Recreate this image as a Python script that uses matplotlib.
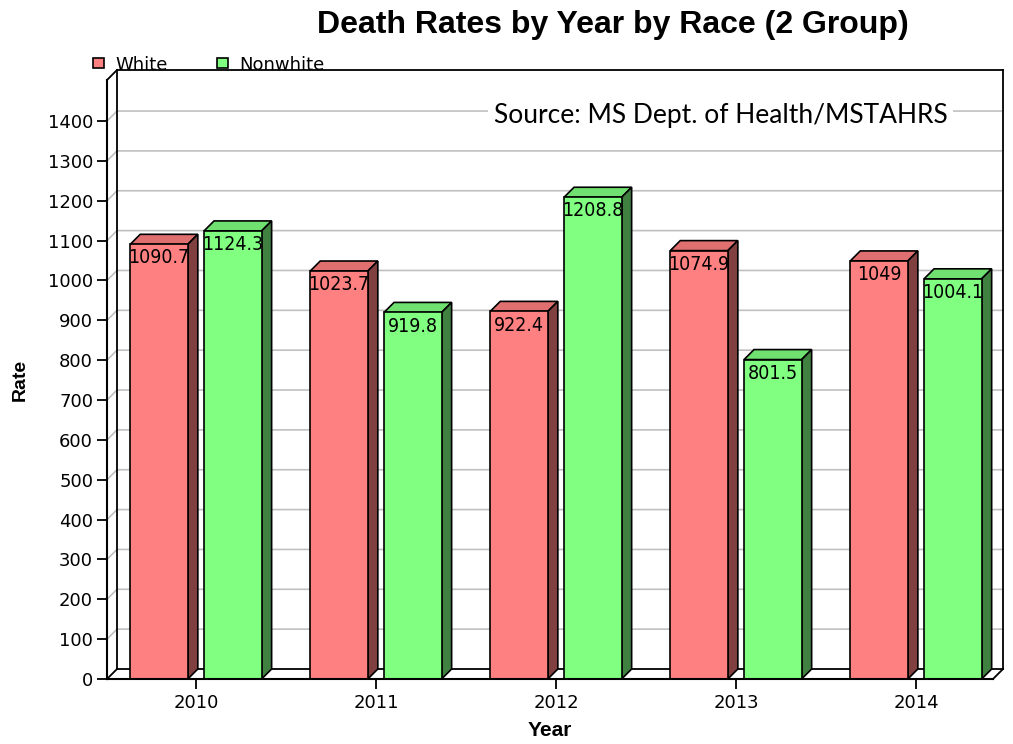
import matplotlib
matplotlib.use("Agg")
import matplotlib.pyplot as plt
from matplotlib.patches import Polygon
from matplotlib.lines import Line2D

years = ["2010", "2011", "2012", "2013", "2014"]
white = [1090.7, 1023.7, 922.4, 1074.9, 1049.0]
nonwhite = [1124.3, 919.8, 1208.8, 801.5, 1004.1]
white_labels = ["1090.7", "1023.7", "922.4", "1074.9", "1049"]
nonwhite_labels = ["1124.3", "919.8", "1208.8", "801.5", "1004.1"]
yticks = list(range(0, 1401, 100))

W, H = 1013, 744
fig = plt.figure(figsize=(W / 100, H / 100), dpi=100)

# front axes area in pixels
L, R, B, T = 107, 993, 679, 80
ax = fig.add_axes([L / W, 1 - B / H, (R - L) / W, (B - T) / H])
xmin, xmax = -0.494, 4.428
ymax = 1503
ax.set_xlim(xmin, xmax)
ax.set_ylim(0, ymax)
for s in ax.spines.values():
    s.set_visible(False)

pxx = (R - L) / (xmax - xmin)
pxy = (B - T) / ymax
dx = 10 / pxx
dy = 10 / pxy

def line(xs, ys, **kw):
    ax.add_line(Line2D(xs, ys, clip_on=False, **kw))

# gridlines on back wall and left wall
for v in yticks[1:]:
    line([xmin, xmin + dx, xmax + dx], [v, v + dy, v + dy], color="#c0c0c0", lw=1.2, zorder=1)

# frame lines
k = dict(color="black", lw=1.3, zorder=7)
line([xmin + dx, xmin + dx], [dy, ymax + dy], **k)
line([xmin + dx, xmax + dx], [ymax + dy, ymax + dy], **k)
line([xmax + dx, xmax + dx], [ymax + dy, dy], **k)
line([xmin + dx, xmax + dx], [dy, dy], color="black", lw=1.3, zorder=2)
line([xmax + dx, xmax], [dy, 0], **k)
line([xmin, xmin + dx], [ymax, ymax + dy], **k)
line([xmin, xmin + dx], [0, dy], **k)
kf = dict(color="black", lw=1.5, zorder=6)
line([xmin, xmin], [0, ymax], **kf)
line([xmin, xmax], [0, 0], **kf)

w = 0.32
off = 0.205
x = list(range(len(years)))

def bars3d(xc, vals, labels, front, top, side):
    for xi, v, lab in zip(xc, vals, labels):
        x0, x1 = xi - w / 2, xi + w / 2
        ax.add_patch(Polygon([(x0, v), (x0 + dx, v + dy), (x1 + dx, v + dy), (x1, v)],
                             closed=True, facecolor=top, edgecolor="black", lw=1.2,
                             zorder=3, clip_on=False))
        ax.add_patch(Polygon([(x1, 0), (x1, v), (x1 + dx, v + dy), (x1 + dx, dy)],
                             closed=True, facecolor=side, edgecolor="black", lw=1.2,
                             zorder=3, clip_on=False))
    ax.bar(xc, vals, width=w, color=front, edgecolor="black", lw=1.2, zorder=4)
    for xi, v, lab in zip(xc, vals, labels):
        ax.annotate(lab, (xi, v), xytext=(0, -3), textcoords="offset points",
                    ha="center", va="top", fontsize=14, family="DejaVu Sans",
                    fontstretch="condensed", zorder=5)

bars3d([i - off for i in x], white, white_labels, "#ff8080", "#e07070", "#804040")
bars3d([i + off for i in x], nonwhite, nonwhite_labels, "#80ff80", "#70e070", "#408040")

ax.set_yticks(yticks)
ax.set_yticklabels([str(t) for t in yticks], fontsize=13)
ax.set_xticks(x)
ax.set_xticklabels(years, fontsize=13)
ax.tick_params(axis="y", length=7, width=1.3, pad=3)
ax.tick_params(axis="x", length=7, width=1.3, pad=4)
ax.set_ylabel("Rate", fontsize=14, fontweight="bold", family="Liberation Sans", labelpad=14)
ax.set_xlabel("Year", fontsize=15, fontweight="bold", family="Liberation Sans", labelpad=6)

fig.text(613 / W, 1 - 25 / H, "Death Rates by Year by Race (2 Group)", ha="center",
         va="center", fontsize=23, fontweight="bold", family="Liberation Sans")

# legend
for xs, c, lab in [(93, "#ff8080", "White"), (217, "#80ff80", "Nonwhite")]:
    fig.patches.append(plt.Rectangle((xs / W, 1 - 68 / H), 11 / W, 10 / H,
                                     transform=fig.transFigure, facecolor=c,
                                     edgecolor="black", lw=1.2, figure=fig))
    fig.text((xs + 22) / W, 1 - 65 / H, lab, ha="left", va="center", fontsize=13)

fig.text(494 / W, 1 - 116 / H, "Source: MS Dept. of Health/MSTAHRS", ha="left",
         va="center", fontsize=19, family="Lato",
         bbox=dict(facecolor="white", edgecolor="none", pad=4))

fig.savefig("out.png", dpi=100)
